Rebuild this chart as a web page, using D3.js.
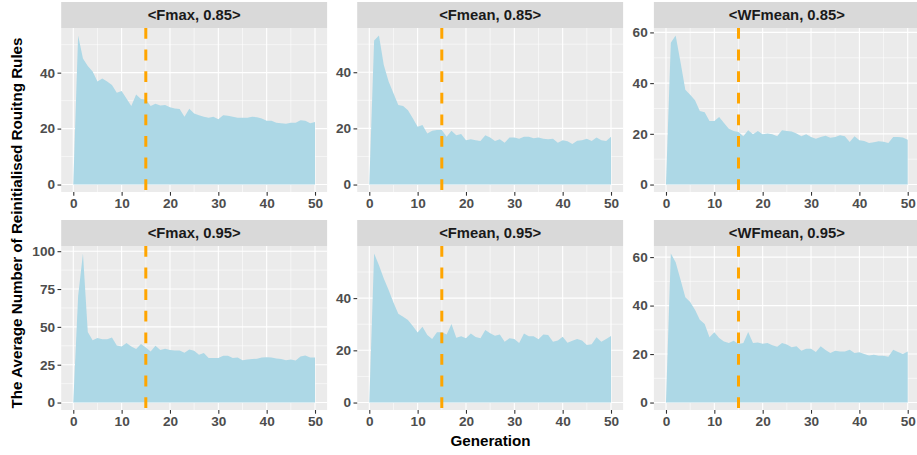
<!DOCTYPE html>
<html>
<head>
<meta charset="utf-8">
<script src="https://cdn.jsdelivr.net/npm/d3@7"></script>
<style>
  body { margin: 0; background: #fff; }
  text { font-family: "Liberation Sans", Arial, sans-serif; }
</style>
</head>
<body>
<svg id="chart" width="917" height="455"></svg>
<script>
// generations 0..50
const generations = d3.range(0, 51);

// average number of reinitialised routing rules, per panel
const fmax085 = [0, 53.3, 45.1, 42.4, 40.4, 36.8, 37.9, 36.8, 35.6, 32.8, 33.4, 30.8, 28.1, 32.2, 30.6, 30.4,
  28.1, 28.9, 28.3, 28.4, 27.6, 27.2, 27.0, 24.2, 27.1, 25.4, 24.8, 24.2, 23.9, 24.2, 23.3, 24.8, 24.6, 24.2,
  23.9, 23.9, 23.9, 24.2, 24.1, 23.6, 22.8, 22.8, 22.1, 21.9, 21.7, 22.1, 22.1, 23.0, 22.8, 21.9, 22.4];
const fmean085 = [0, 51.3, 53.1, 42.6, 36.7, 32.5, 28.3, 28.0, 26.5, 23.6, 20.6, 21.2, 18.2, 19.2, 19.4, 19.4,
  17.0, 19.2, 17.6, 18.0, 15.8, 16.1, 15.8, 15.5, 17.6, 16.8, 15.5, 16.1, 14.9, 16.8, 16.8, 16.3, 17.0, 17.0,
  16.5, 16.8, 16.3, 16.1, 16.3, 14.9, 15.8, 15.4, 14.4, 15.6, 15.8, 16.3, 15.5, 16.8, 15.8, 15.5, 17.0];
const wfmean085 = [0, 55.9, 58.8, 48.3, 37.4, 35.4, 33.2, 29.0, 28.5, 25.1, 25.1, 26.6, 24.3, 22.0, 21.1, 20.7,
  19.0, 21.4, 19.8, 21.1, 19.8, 20.1, 19.8, 19.0, 21.4, 21.1, 20.9, 20.1, 19.0, 19.8, 18.8, 18.1, 18.8, 19.2,
  18.5, 18.8, 19.4, 19.0, 16.8, 19.0, 17.5, 17.2, 16.4, 16.7, 17.1, 16.9, 16.4, 18.8, 18.8, 18.6, 17.7];
const fmax095 = [0, 70.2, 98.5, 46.6, 41.1, 42.6, 41.9, 41.9, 43.0, 37.7, 37.1, 39.3, 37.1, 35.3, 38.6, 36.4,
  33.8, 37.5, 34.7, 35.5, 34.7, 34.4, 34.4, 32.9, 35.1, 34.2, 31.6, 32.7, 29.4, 29.4, 29.4, 30.9, 30.9, 29.4,
  29.8, 28.0, 28.5, 28.7, 28.9, 29.8, 30.0, 29.8, 29.1, 28.7, 28.0, 28.5, 27.8, 30.5, 31.1, 29.8, 29.8];
const fmean095 = [0, 57.1, 52.6, 47.5, 43.1, 38.3, 34.0, 32.9, 31.6, 29.3, 26.8, 29.0, 25.9, 24.3, 26.9, 26.9,
  26.1, 30.1, 24.8, 25.4, 24.6, 26.4, 25.1, 24.6, 27.8, 26.5, 25.6, 26.1, 23.3, 24.6, 24.3, 22.8, 26.4, 25.4,
  25.4, 24.2, 26.1, 25.9, 23.3, 23.8, 25.2, 22.9, 23.7, 24.3, 23.8, 22.0, 22.3, 25.0, 23.3, 24.3, 25.5];
const wfmean095 = [0, 61.5, 57.9, 50.8, 43.4, 41.5, 38.3, 34.2, 32.4, 26.9, 29.0, 26.6, 25.2, 24.6, 25.5, 24.1,
  24.6, 29.1, 24.6, 24.8, 24.3, 24.6, 23.6, 23.0, 24.6, 23.9, 22.8, 23.2, 21.4, 22.2, 22.2, 20.8, 23.2, 21.7,
  20.4, 21.4, 21.1, 21.1, 21.8, 20.4, 20.7, 20.0, 19.4, 19.7, 19.3, 19.3, 18.9, 21.8, 20.8, 20.0, 21.1];

const stripLabels = ["<Fmax, 0.85>", "<Fmean, 0.85>", "<WFmean, 0.85>",
                     "<Fmax, 0.95>", "<Fmean, 0.95>", "<WFmean, 0.95>"];
const seriesList = [fmax085, fmean085, wfmean085, fmax095, fmean095, wfmean095];
const yTickList = [[0, 20, 40], [0, 20, 40], [0, 20, 40, 60],
                   [0, 25, 50, 75, 100], [0, 20, 40], [0, 20, 40, 60]];
const xTicks = [0, 10, 20, 30, 40, 50];
const cutGeneration = 15;

// layout
const colLeft = [61.2, 357.2, 653.9];
const rowTop = [28, 246];
const panelW = 265.9, panelH = 164, stripH = 26;

const svg = d3.select("#chart");

seriesList.forEach((values, i) => {
  const col = i % 3, row = Math.floor(i / 3);
  const g = svg.append("g")
    .attr("transform", `translate(${colLeft[col]},${rowTop[row]})`);

  const x = d3.scaleLinear().domain([-2.5, 52.5]).range([0, panelW]);
  const maxV = d3.max(values);
  const y = d3.scaleLinear().domain([-0.05 * maxV, 1.05 * maxV]).range([panelH, 0]);

  // strip
  g.append("rect")
    .attr("x", 0).attr("y", -stripH)
    .attr("width", panelW).attr("height", stripH)
    .attr("fill", "#D9D9D9");
  g.append("text")
    .attr("x", panelW / 2).attr("y", -stripH / 2 + 5.2)
    .attr("text-anchor", "middle")
    .attr("font-size", 14.8).attr("font-weight", "bold")
    .attr("fill", "#1A1A1A")
    .text(stripLabels[i]);

  // panel background
  g.append("rect")
    .attr("width", panelW).attr("height", panelH)
    .attr("fill", "#EBEBEB");

  // minor grid
  const yt = yTickList[i];
  const step = yt[1] - yt[0];
  const yMinor = [];
  for (let v = yt[0] - step / 2; v <= y.domain()[1]; v += step) {
    if (v >= y.domain()[0] && !yt.includes(v)) yMinor.push(v);
  }
  const xMinor = xTicks.slice(1).map(t => t - 5);

  g.selectAll(".ymin").data(yMinor).join("line")
    .attr("x1", 0).attr("x2", panelW)
    .attr("y1", d => y(d)).attr("y2", d => y(d))
    .attr("stroke", "#fff").attr("stroke-width", 0.55);
  g.selectAll(".xmin").data(xMinor).join("line")
    .attr("y1", 0).attr("y2", panelH)
    .attr("x1", d => x(d)).attr("x2", d => x(d))
    .attr("stroke", "#fff").attr("stroke-width", 0.55);

  // major grid
  g.selectAll(".ymaj").data(yt).join("line")
    .attr("x1", 0).attr("x2", panelW)
    .attr("y1", d => y(d)).attr("y2", d => y(d))
    .attr("stroke", "#fff").attr("stroke-width", 1.1);
  g.selectAll(".xmaj").data(xTicks).join("line")
    .attr("y1", 0).attr("y2", panelH)
    .attr("x1", d => x(d)).attr("x2", d => x(d))
    .attr("stroke", "#fff").attr("stroke-width", 1.1);

  // area
  const area = d3.area()
    .x((d, k) => x(generations[k]))
    .y0(y(0))
    .y1(d => y(d));
  g.append("path")
    .datum(values)
    .attr("d", area)
    .attr("fill", "#ADD8E6");

  // vertical dashed line
  g.append("line")
    .attr("x1", x(cutGeneration)).attr("x2", x(cutGeneration))
    .attr("y1", 0).attr("y2", panelH)
    .attr("stroke", "#FFA500").attr("stroke-width", 3)
    .attr("stroke-dasharray", "10.8,10.8");

  // axes
  const xAxis = g.append("g")
    .attr("transform", `translate(0,${panelH})`)
    .call(d3.axisBottom(x).tickValues(xTicks).tickSize(3.7).tickPadding(2.5));
  const yAxis = g.append("g")
    .call(d3.axisLeft(y).tickValues(yt).tickSize(3.7).tickPadding(2.5));

  [xAxis, yAxis].forEach(a => {
    a.select(".domain").remove();
    a.selectAll(".tick line").attr("stroke", "#333333").attr("stroke-width", 1.1);
    a.selectAll(".tick text")
      .attr("fill", "#4D4D4D")
      .attr("font-size", 13.6)
      .attr("font-weight", "bold")
      .attr("font-family", "'Liberation Sans', Arial, sans-serif");
  });
});

// axis titles
svg.append("text")
  .attr("x", (colLeft[0] + colLeft[2] + panelW) / 2)
  .attr("y", 446)
  .attr("text-anchor", "middle")
  .attr("font-size", 15.2).attr("font-weight", "bold")
  .attr("fill", "#000")
  .text("Generation");

svg.append("text")
  .attr("transform", "translate(22,223) rotate(-90)")
  .attr("text-anchor", "middle")
  .attr("font-size", 15.2).attr("font-weight", "bold")
  .attr("fill", "#000")
  .text("The Average Number of Reinitialised Rouitng Rules");
</script>
</body>
</html>
